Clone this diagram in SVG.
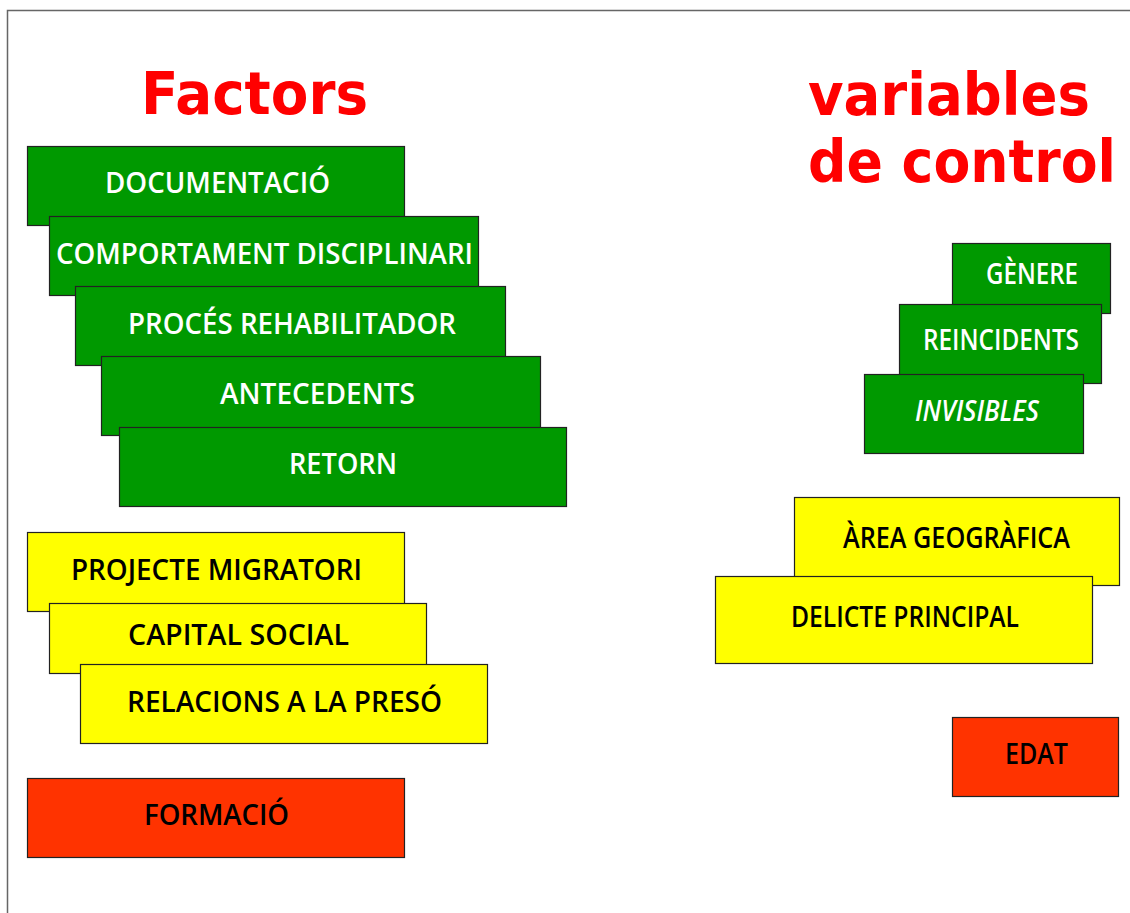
<svg xmlns="http://www.w3.org/2000/svg" width="1130" height="913" viewBox="0 0 1130 913">
<style>
.bg{fill:#ffffff}
.frame{stroke:#666666;stroke-width:1.5;fill:none}
.title{font-family:"DejaVu Sans","Liberation Sans",sans-serif;font-weight:bold;font-size:58px;fill:#ff0000}
.box{stroke:#222222;stroke-width:1.2}
.green{fill:#009900}
.yellow{fill:#ffff00}
.red{fill:#ff3300}
.lbl{font-family:"Open Sans","DejaVu Sans Condensed","Liberation Sans",sans-serif;font-size:28px;font-weight:600}
.wt{fill:#ffffff}
.bk{fill:#000000}
</style>
<rect class="bg" x="0" y="0" width="1130" height="913"/>
<path class="frame" d="M7.5,913 V10.5 H1130"/>
<g id="titles">
<text class="title" x="141" y="114" textLength="227" lengthAdjust="spacingAndGlyphs">Factors</text>
<text class="title" x="808" y="115" textLength="282" lengthAdjust="spacingAndGlyphs">variables</text>
<text class="title" x="808" y="182" textLength="308" lengthAdjust="spacingAndGlyphs">de control</text>
</g>
<g id="connectors"></g>
<g id="documentacio">
<rect class="box green" x="27.5" y="146.5" width="377" height="79"/>
<text class="lbl wt" x="105" y="193" textLength="225" lengthAdjust="spacingAndGlyphs">DOCUMENTACIÓ</text>
</g>
<g id="comportament">
<rect class="box green" x="49.5" y="216.5" width="429" height="79"/>
<text class="lbl wt" x="56" y="264" textLength="417" lengthAdjust="spacingAndGlyphs">COMPORTAMENT DISCIPLINARI</text>
</g>
<g id="proces">
<rect class="box green" x="75.5" y="286.5" width="430" height="79"/>
<text class="lbl wt" x="128" y="334" textLength="328" lengthAdjust="spacingAndGlyphs">PROCÉS REHABILITADOR</text>
</g>
<g id="antecedents">
<rect class="box green" x="101.5" y="356.5" width="439" height="79"/>
<text class="lbl wt" x="220" y="404" textLength="195" lengthAdjust="spacingAndGlyphs">ANTECEDENTS</text>
</g>
<g id="retorn">
<rect class="box green" x="119.5" y="427.5" width="447" height="79"/>
<text class="lbl wt" x="289" y="474" textLength="108" lengthAdjust="spacingAndGlyphs">RETORN</text>
</g>
<g id="projecte">
<rect class="box yellow" x="27.5" y="532.5" width="377" height="79"/>
<text class="lbl bk" x="71" y="580" textLength="291" lengthAdjust="spacingAndGlyphs">PROJECTE MIGRATORI</text>
</g>
<g id="capital">
<rect class="box yellow" x="49.5" y="603.5" width="377" height="70"/>
<text class="lbl bk" x="128" y="645" textLength="221" lengthAdjust="spacingAndGlyphs">CAPITAL SOCIAL</text>
</g>
<g id="relacions">
<rect class="box yellow" x="80.5" y="664.5" width="407" height="79"/>
<text class="lbl bk" x="127" y="712" textLength="315" lengthAdjust="spacingAndGlyphs">RELACIONS A LA PRESÓ</text>
</g>
<g id="formacio">
<rect class="box red" x="27.5" y="778.5" width="377" height="79"/>
<text class="lbl bk" x="144" y="825" textLength="145" lengthAdjust="spacingAndGlyphs">FORMACIÓ</text>
</g>
<g id="genere">
<rect class="box green" x="952.5" y="243.5" width="158" height="70"/>
<text class="lbl wt" x="986" y="284" textLength="92" lengthAdjust="spacingAndGlyphs">GÈNERE</text>
</g>
<g id="reincidents">
<rect class="box green" x="899.5" y="304.5" width="202" height="79"/>
<text class="lbl wt" x="923" y="350" textLength="156" lengthAdjust="spacingAndGlyphs">REINCIDENTS</text>
</g>
<g id="invisibles">
<rect class="box green" x="864.5" y="374.5" width="219" height="79"/>
<text class="lbl wt" x="915" y="421" font-style="italic" textLength="124" lengthAdjust="spacingAndGlyphs">INVISIBLES</text>
</g>
<g id="area">
<rect class="box yellow" x="794.5" y="497.5" width="325" height="88"/>
<text class="lbl bk" x="843" y="548" textLength="227" lengthAdjust="spacingAndGlyphs">ÀREA GEOGRÀFICA</text>
</g>
<g id="delicte">
<rect class="box yellow" x="715.5" y="576.5" width="377" height="87"/>
<text class="lbl bk" x="791" y="627" textLength="228" lengthAdjust="spacingAndGlyphs">DELICTE PRINCIPAL</text>
</g>
<g id="edat">
<rect class="box red" x="952.5" y="717.5" width="166" height="79"/>
<text class="lbl bk" x="1005" y="764" textLength="63" lengthAdjust="spacingAndGlyphs">EDAT</text>
</g>
</svg>
